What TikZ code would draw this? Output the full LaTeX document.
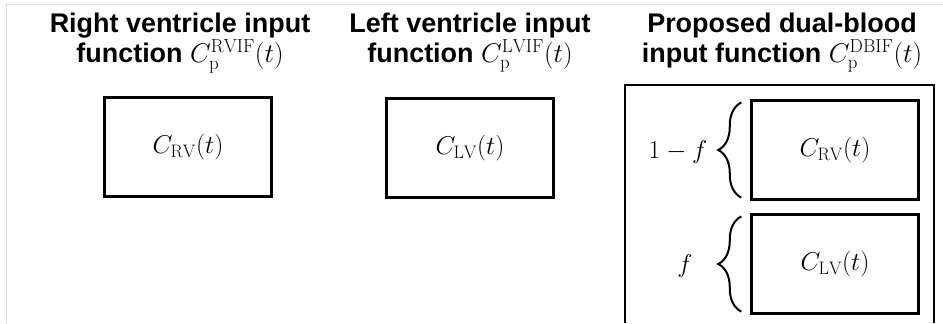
\RequirePackage{fix-cm}
\documentclass[tikz,border=0pt]{standalone}
\usepackage{fontspec}
\newfontfamily\headfont{Liberation Sans}
\usetikzlibrary{decorations.pathreplacing}
\tikzset{
  curve/.style={draw, line width=2.4pt, minimum width=5cm, minimum height=2.95cm,
    font=\fontsize{22}{26}\selectfont},
  head/.style={align=center, font=\headfont\bfseries\fontsize{23}{24}\selectfont},
  weight/.style={draw, line width=1.7pt, decorate, decoration={brace, amplitude=0.69cm}}
}
\begin{document}
\begin{tikzpicture}[x=0.03cm, y=-0.03cm]
  \useasboundingbox (0,0) rectangle (943,323);
  \draw[black!15, line width=0.6pt] (6,323) -- (6,4) -- (943,4);
  % column titles
  \node[head] (rvhead) at (180,43) {Right ventricle input\\function $C_{\mathrm{p}}^{\mathrm{RVIF}}(t)$};
  \node[head] (lvhead) at (470,43) {Left ventricle input\\function $C_{\mathrm{p}}^{\mathrm{LVIF}}(t)$};
  \node[head] (dbhead) at (782,43) {Proposed dual-blood\\input function $C_{\mathrm{p}}^{\mathrm{DBIF}}(t)$};
  % single input functions
  \node[curve] (rv) at (188,147) {$C_{\mathrm{RV}}(t)$};
  \node[curve] (lv) at (470,148) {$C_{\mathrm{LV}}(t)$};
  % dual-blood input function
  \draw[line width=2.4pt] (625,323) -- (625,85) -- (934,85) -- (934,323);
  \node[curve] (rvin) at (835,150) {$C_{\mathrm{RV}}(t)$};
  \node[curve] (lvin) at (835,264) {$C_{\mathrm{LV}}(t)$};
  \draw[weight] ([xshift=-0.27cm, yshift=0.09cm]rvin.south west) -- ([xshift=-0.27cm, yshift=-0.09cm]rvin.north west);
  \draw[weight] ([xshift=-0.27cm, yshift=0.09cm]lvin.south west) -- ([xshift=-0.27cm, yshift=-0.09cm]lvin.north west);
  \node[font=\fontsize{22}{26}\selectfont] (wrv) at (678,152) {$1-f$};
  \node[font=\fontsize{22}{26}\selectfont] (wlv) at (685,266) {$f$};
\end{tikzpicture}
\end{document}
